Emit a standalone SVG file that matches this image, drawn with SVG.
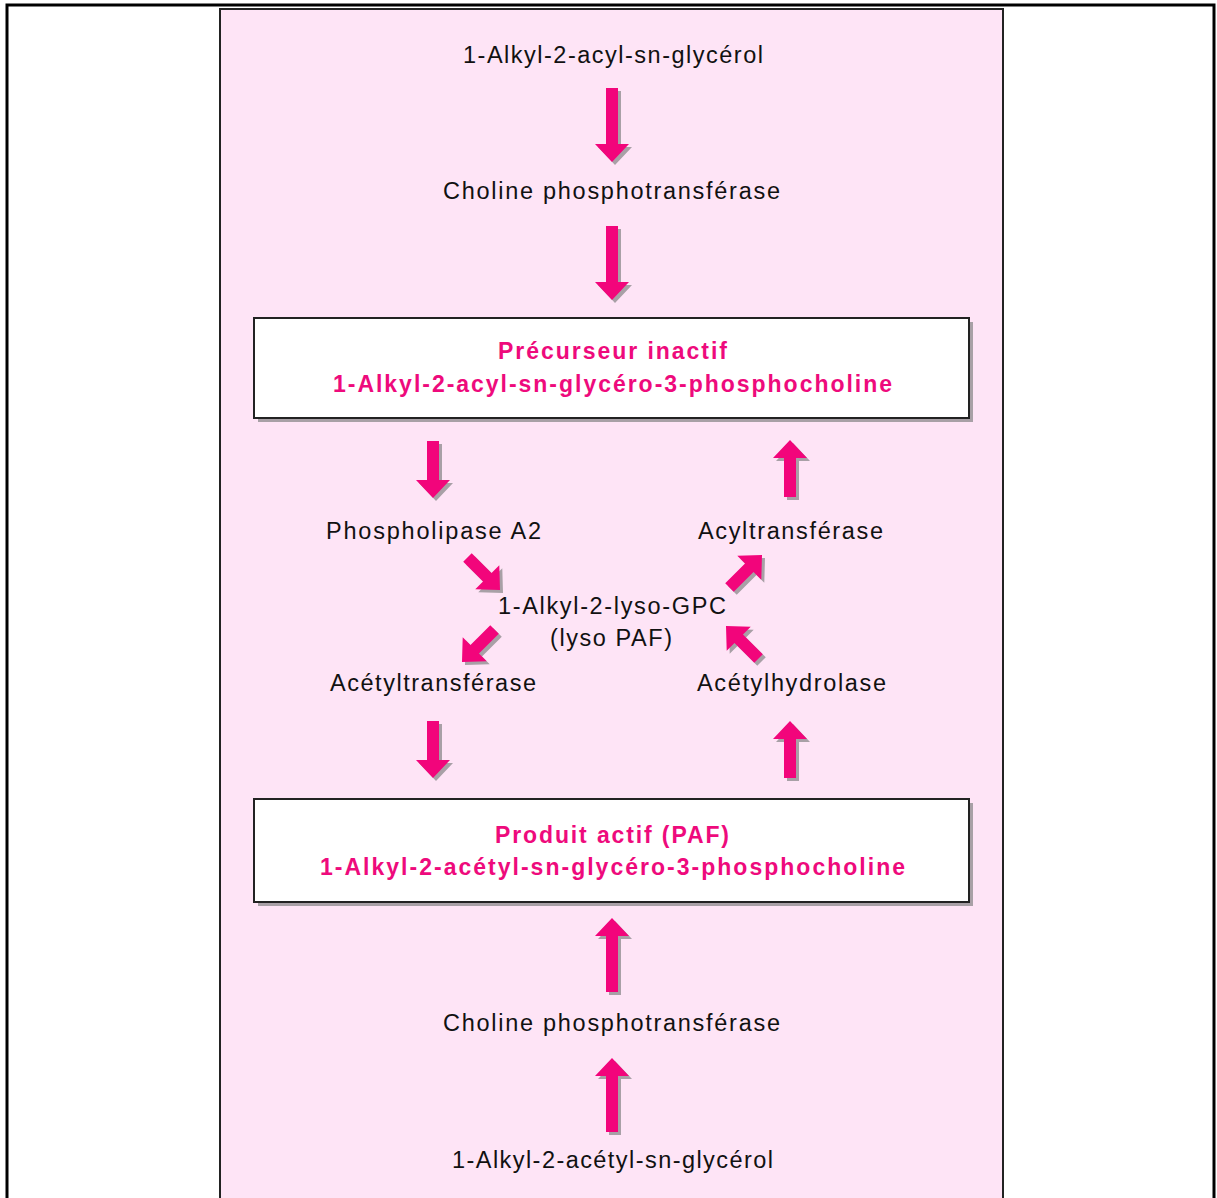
<svg xmlns="http://www.w3.org/2000/svg" xmlns:xlink="http://www.w3.org/1999/xlink" width="1217" height="1198" viewBox="0 0 1217 1198">
<style>
.t{font-family:"Liberation Sans",Arial,sans-serif;font-size:23.5px;fill:#111;text-anchor:middle}
.b{font-family:"Liberation Sans",Arial,sans-serif;font-size:23px;font-weight:bold;fill:#EE0A7C;text-anchor:middle}
.a{fill:#F2057B}
.s{fill:#A8A0A6}
.box{fill:#fff;stroke:#222;stroke-width:2}
.bs{fill:#A8A0A6}
</style>
<defs>
<path id="aL" d="M0,0 L17,18 L6,18 L6,74 L-6,74 L-6,18 L-17,18 Z"/>
<path id="aM" d="M0,0 L17,18 L6,18 L6,57 L-6,57 L-6,18 L-17,18 Z"/>
<path id="aS" d="M0,0 L17,18 L6,18 L6,46 L-6,46 L-6,18 L-17,18 Z"/>
</defs>
<rect x="0" y="0" width="1217" height="1198" fill="#fff"/>
<rect x="7" y="5" width="1207" height="1210" fill="#fff" stroke="#000" stroke-width="3"/>
<rect x="221" y="10" width="781" height="1200" fill="none" stroke="#9a8a94" stroke-width="2"/>
<rect x="220" y="9" width="783" height="1200" fill="#FEE4F6" stroke="#222" stroke-width="2"/>

<g id="connectors">
<g id="a1"><use xlink:href="#aL" class="s" transform="translate(615,165) rotate(180)"/><use xlink:href="#aL" class="a" transform="translate(612,162) rotate(180)"/></g>
<g id="a2"><use xlink:href="#aL" class="s" transform="translate(615,303) rotate(180)"/><use xlink:href="#aL" class="a" transform="translate(612,300) rotate(180)"/></g>
<g id="a3"><use xlink:href="#aM" class="s" transform="translate(436,501) rotate(180)"/><use xlink:href="#aM" class="a" transform="translate(433,498) rotate(180)"/></g>
<g id="a4"><use xlink:href="#aM" class="s" transform="translate(793,443)"/><use xlink:href="#aM" class="a" transform="translate(790,440)"/></g>
<g id="a5"><use xlink:href="#aM" class="s" transform="translate(436,781) rotate(180)"/><use xlink:href="#aM" class="a" transform="translate(433,778) rotate(180)"/></g>
<g id="a6"><use xlink:href="#aM" class="s" transform="translate(793,724)"/><use xlink:href="#aM" class="a" transform="translate(790,721)"/></g>
<g id="a7"><use xlink:href="#aL" class="s" transform="translate(615,921)"/><use xlink:href="#aL" class="a" transform="translate(612,918)"/></g>
<g id="a8"><use xlink:href="#aL" class="s" transform="translate(615,1061)"/><use xlink:href="#aL" class="a" transform="translate(612,1058)"/></g>
<g id="d1"><use xlink:href="#aS" class="s" transform="translate(503,593) rotate(135)"/><use xlink:href="#aS" class="a" transform="translate(500,590) rotate(135)"/></g>
<g id="d2"><use xlink:href="#aS" class="s" transform="translate(765,558) rotate(45)"/><use xlink:href="#aS" class="a" transform="translate(762,555) rotate(45)"/></g>
<g id="d3"><use xlink:href="#aS" class="s" transform="translate(465,665) rotate(225)"/><use xlink:href="#aS" class="a" transform="translate(462,662) rotate(225)"/></g>
<g id="d4"><use xlink:href="#aS" class="s" transform="translate(729,629) rotate(315)"/><use xlink:href="#aS" class="a" transform="translate(726,626) rotate(315)"/></g>
</g>

<g id="n-alkylacylglycerol"><text class="t" x="613" y="63" textLength="300" lengthAdjust="spacing">1-Alkyl-2-acyl-sn-glycérol</text></g>
<g id="n-choline1"><text class="t" x="611.5" y="199" textLength="337" lengthAdjust="spacing">Choline phosphotransférase</text></g>
<g id="n-precurseur">
<rect class="bs" x="258" y="322" width="715" height="100"/>
<rect class="box" x="254" y="318" width="715" height="100"/>
<text class="b" x="612.5" y="359" textLength="229" lengthAdjust="spacing">Précurseur inactif</text>
<text class="b" x="612.5" y="392" textLength="559" lengthAdjust="spacing">1-Alkyl-2-acyl-sn-glycéro-3-phosphocholine</text>
</g>
<g id="n-pla2"><text class="t" x="433.5" y="539" textLength="215" lengthAdjust="spacing">Phospholipase A2</text></g>
<g id="n-acyltransferase"><text class="t" x="790.5" y="539" textLength="185" lengthAdjust="spacing">Acyltransférase</text></g>
<g id="n-lysopaf">
<text class="t" x="612" y="614" textLength="228" lengthAdjust="spacing">1-Alkyl-2-lyso-GPC</text>
<text class="t" x="611" y="646" textLength="122" lengthAdjust="spacing">(lyso PAF)</text>
</g>
<g id="n-acetyltransferase"><text class="t" x="433" y="691" textLength="206" lengthAdjust="spacing">Acétyltransférase</text></g>
<g id="n-acetylhydrolase"><text class="t" x="791.5" y="691" textLength="189" lengthAdjust="spacing">Acétylhydrolase</text></g>
<g id="n-paf">
<rect class="bs" x="258" y="803" width="715" height="103"/>
<rect class="box" x="254" y="799" width="715" height="103"/>
<text class="b" x="612" y="843" textLength="234" lengthAdjust="spacing">Produit actif (PAF)</text>
<text class="b" x="612.5" y="875" textLength="585" lengthAdjust="spacing">1-Alkyl-2-acétyl-sn-glycéro-3-phosphocholine</text>
</g>
<g id="n-choline2"><text class="t" x="611.5" y="1031" textLength="337" lengthAdjust="spacing">Choline phosphotransférase</text></g>
<g id="n-alkylacetylglycerol"><text class="t" x="612.5" y="1168" textLength="321" lengthAdjust="spacing">1-Alkyl-2-acétyl-sn-glycérol</text></g>
</svg>
